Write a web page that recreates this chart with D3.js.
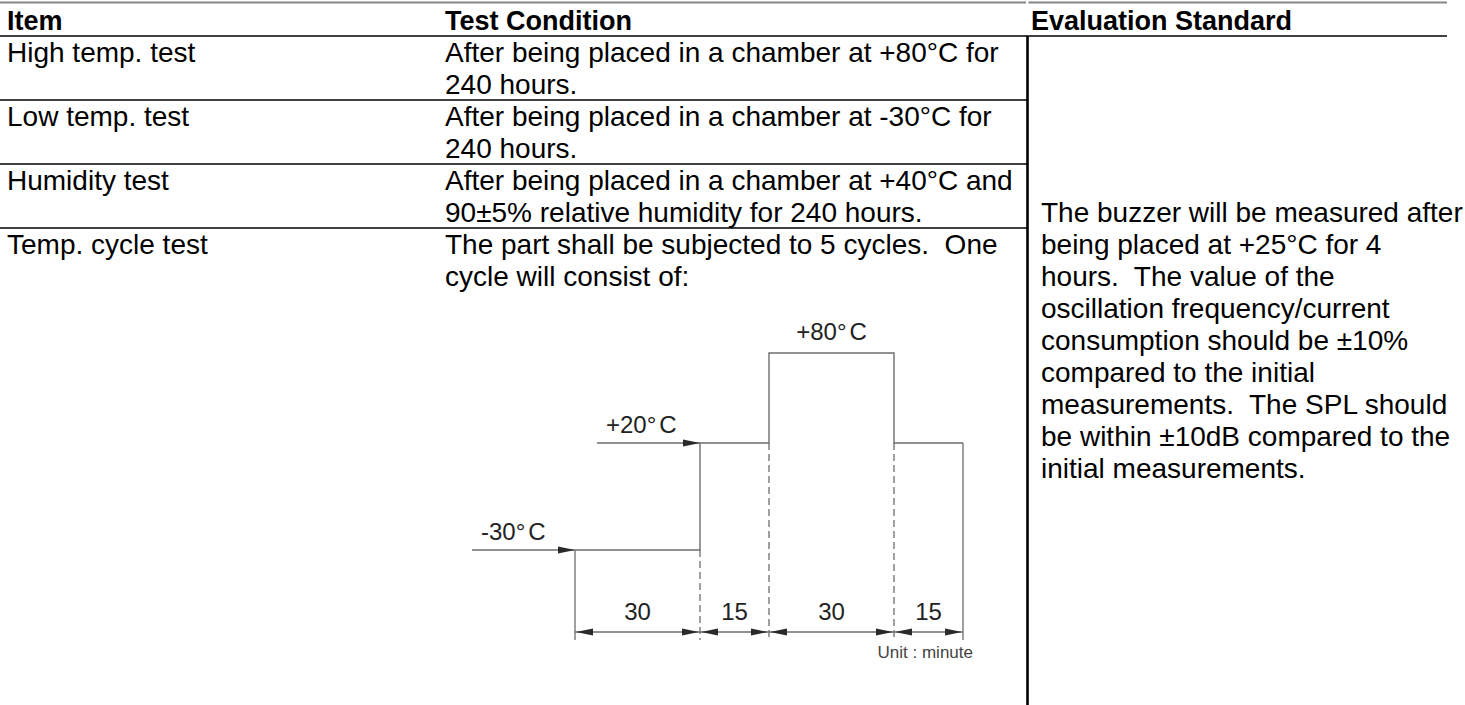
<!DOCTYPE html>
<html>
<head>
<meta charset="utf-8">
<script src="https://cdn.jsdelivr.net/npm/d3@7"></script>
<style>
  body { margin: 0; background: #fff; }
  svg { display: block; font-family: "Liberation Sans", Arial, sans-serif; }
  text { white-space: pre; }
</style>
</head>
<body>
<div id="chart"></div>
<script>
const headers = ['Item', 'Test Condition', 'Evaluation Standard'];
const items = ['High temp. test', 'Low temp. test', 'Humidity test', 'Temp. cycle test'];
const conditions = [
  ['After being placed in a chamber at +80°C for', '240 hours.'],
  ['After being placed in a chamber at -30°C for', '240 hours.'],
  ['After being placed in a chamber at +40°C and', '90±5% relative humidity for 240 hours.'],
  ['The part shall be subjected to 5 cycles.  One', 'cycle will consist of:'],
];
const standardLines = [
  'The buzzer will be measured after',
  'being placed at +25°C for 4',
  'hours.  The value of the',
  'oscillation frequency/current',
  'consumption should be ±10%',
  'compared to the initial',
  'measurements.  The SPL should',
  'be within ±10dB compared to the',
  'initial measurements.',
];

// one temperature cycle: step boundaries (minutes) and the temperature held in each step
const stepMinutes = [0, 30, 45, 75, 90];
const stepTemps = [-30, 20, 80, 20];
const durations = [30, 15, 30, 15];
const tempLevels = [-30, 20, 80];
const tempLabels = ['-30°C', '+20°C', '+80°C'];
const unitLabel = 'Unit : minute';

const width = 1465;
const height = 705;

const svg = d3.select('#chart')
  .append('svg')
  .attr('width', width)
  .attr('height', height);

function drawTable() {
  const fontSize = 28;
  const lineHeight = 32;
  const baseline = 26;
  const colX = [7, 445, 1041];
  const headX = [7, 445, 1031];
  const tableRight = 1447;
  const divider = 1027.5;

  // row tops
  const yRow = d3.scaleLinear().domain([0, 1]).range([36, 100]);

  // grey rule at the very top
  svg.append('line')
    .attr('x1', 0).attr('x2', divider - 1.5)
    .attr('y1', 2.5).attr('y2', 2.5)
    .attr('stroke', '#858585').attr('stroke-width', 2.2);
  svg.append('line')
    .attr('x1', divider + 1).attr('x2', tableRight)
    .attr('y1', 2.5).attr('y2', 2.5)
    .attr('stroke', '#858585').attr('stroke-width', 2.2);

  // header
  svg.append('g')
    .selectAll('text')
    .data(headers)
    .join('text')
    .attr('x', (d, i) => headX[i])
    .attr('y', yRow(0) - lineHeight + baseline)
    .attr('font-size', 27)
    .attr('font-weight', 'bold')
    .attr('fill', '#000')
    .text(d => d);

  svg.append('line')
    .attr('x1', 0).attr('x2', tableRight)
    .attr('y1', yRow(0)).attr('y2', yRow(0))
    .attr('stroke', '#000').attr('stroke-width', 1.4);

  // row separators (left two columns only)
  svg.append('g')
    .selectAll('line')
    .data(d3.range(1, items.length))
    .join('line')
    .attr('x1', 0).attr('x2', divider)
    .attr('y1', d => yRow(d)).attr('y2', d => yRow(d))
    .attr('stroke', '#000').attr('stroke-width', 1.4);

  svg.append('line')
    .attr('x1', divider).attr('x2', divider)
    .attr('y1', yRow(0)).attr('y2', height)
    .attr('stroke', '#000').attr('stroke-width', 2.6);

  // item column
  svg.append('g')
    .selectAll('text')
    .data(items)
    .join('text')
    .attr('x', colX[0])
    .attr('y', (d, i) => yRow(i) + baseline)
    .attr('font-size', fontSize)
    .text(d => d);

  // test condition column
  const cond = svg.append('g');
  conditions.forEach((lines, i) => {
    cond.selectAll(null)
      .data(lines)
      .join('text')
      .attr('x', colX[1])
      .attr('y', (d, j) => yRow(i) + baseline + j * lineHeight)
      .attr('font-size', fontSize)
      .text(d => d);
  });

  // evaluation standard (merged cell)
  const stdTop = yRow(2) + lineHeight;
  svg.append('g')
    .selectAll('text')
    .data(standardLines)
    .join('text')
    .attr('x', colX[2])
    .attr('y', (d, j) => stdTop + baseline + j * lineHeight)
    .attr('font-size', fontSize)
    .text(d => d);
}

function arrowPath(x, y, dir) {
  const L = 17, W = 3.6;
  return `M${x},${y}L${x - dir * L},${y - W}L${x - dir * L},${y + W}Z`;
}

// temperature label with the small gap the drawing shows between ° and C
function tempText(sel, label) {
  sel.append('tspan').text(label.slice(0, -1));
  sel.append('tspan').attr('dx', 3).text(label.slice(-1));
}

function drawCycle() {
  const x = d3.scaleLinear().domain(stepMinutes).range([575, 700, 769, 894, 963]);
  const y = d3.scaleLinear().domain(tempLevels).range([550, 443, 353]);
  const dimY = 632;
  const extBottom = 640;
  const lineColor = '#6e6e6e';
  const arrowColor = '#2a2a2a';
  const labelSize = 24;
  const arrowLen = 103;

  const g = svg.append('g');

  // temperature profile
  const pts = stepTemps.map((t, i) => [stepMinutes[i], t]);
  pts.push([stepMinutes[stepMinutes.length - 1], stepTemps[stepTemps.length - 1]]);
  const line = d3.line()
    .x(d => x(d[0]))
    .y(d => y(d[1]))
    .curve(d3.curveStepAfter);

  g.append('path')
    .attr('d', line(pts))
    .attr('fill', 'none')
    .attr('stroke', lineColor)
    .attr('stroke-width', 1.4);

  // extension lines: solid at both ends, dashed between
  stepMinutes.forEach((m, i) => {
    const last = i === stepMinutes.length - 1;
    const top = last ? y(stepTemps[i - 1]) : i === 0 ? y(stepTemps[0]) : y(Math.min(stepTemps[i - 1], stepTemps[i]));
    g.append('line')
      .attr('x1', x(m)).attr('x2', x(m))
      .attr('y1', top).attr('y2', extBottom)
      .attr('stroke', lineColor)
      .attr('stroke-width', 1.3)
      .attr('stroke-dasharray', i === 0 || last ? null : '7,4');
  });

  // incoming arrows for -30 and +20 levels
  [[0, -30, 0], [1, 20, 1]].forEach(([mi, t, li]) => {
    const tipX = x(stepMinutes[mi]);
    const ty = y(t);
    g.append('line')
      .attr('x1', tipX - arrowLen).attr('x2', tipX)
      .attr('y1', ty).attr('y2', ty)
      .attr('stroke', lineColor).attr('stroke-width', 1.4);
    g.append('path').attr('d', arrowPath(tipX, ty, 1)).attr('fill', arrowColor);
    g.append('text')
      .attr('x', tipX - arrowLen + 9)
      .attr('y', ty - 10)
      .attr('font-size', labelSize)
      .attr('fill', '#222')
      .call(tempText, tempLabels[li]);
  });

  g.append('text')
    .attr('x', (x(stepMinutes[2]) + x(stepMinutes[3])) / 2)
    .attr('y', y(80) - 13)
    .attr('text-anchor', 'middle')
    .attr('font-size', labelSize)
    .attr('fill', '#222')
    .call(tempText, tempLabels[2]);

  // dimension line with arrows and durations
  g.append('line')
    .attr('x1', x(stepMinutes[0])).attr('x2', x(stepMinutes[stepMinutes.length - 1]))
    .attr('y1', dimY).attr('y2', dimY)
    .attr('stroke', lineColor).attr('stroke-width', 1.3);

  durations.forEach((d, i) => {
    const x0 = x(stepMinutes[i]);
    const x1 = x(stepMinutes[i + 1]);
    g.append('path').attr('d', arrowPath(x0 + 1, dimY, -1)).attr('fill', arrowColor);
    g.append('path').attr('d', arrowPath(x1 - 1, dimY, 1)).attr('fill', arrowColor);
    g.append('text')
      .attr('x', (x0 + x1) / 2)
      .attr('y', dimY - 12)
      .attr('text-anchor', 'middle')
      .attr('font-size', labelSize)
      .attr('fill', '#222')
      .text(d);
  });

  g.append('text')
    .attr('x', x(stepMinutes[stepMinutes.length - 1]) + 10)
    .attr('y', dimY + 26)
    .attr('text-anchor', 'end')
    .attr('font-size', 17)
    .attr('fill', '#444')
    .text(unitLabel);
}

drawTable();
drawCycle();
</script>
</body>
</html>
